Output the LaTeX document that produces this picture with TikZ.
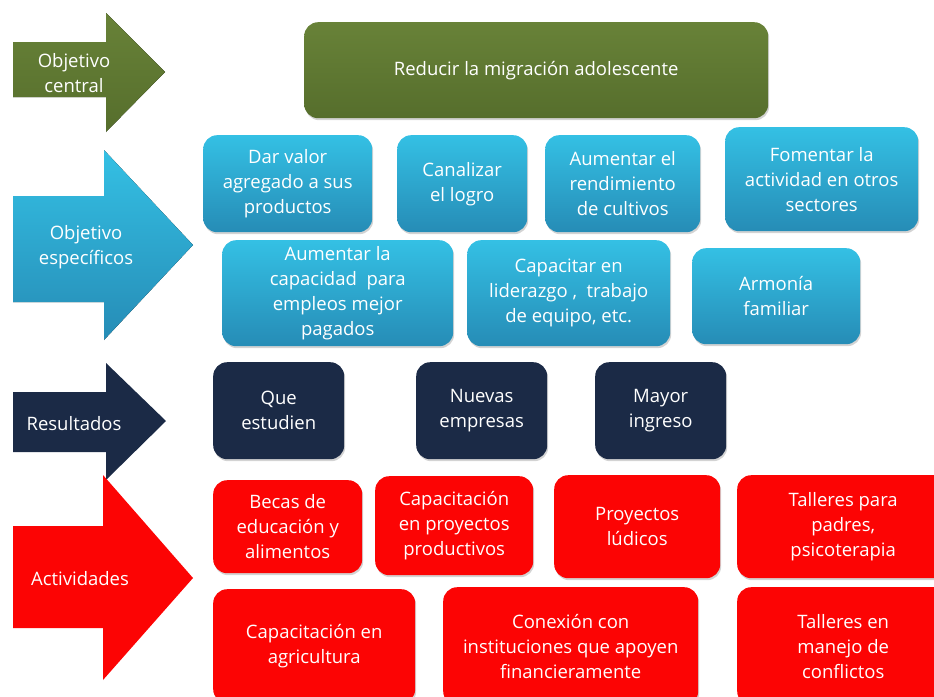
\documentclass[tikz,border=0pt]{standalone}
\usepackage{fontspec}
\setmainfont{Open Sans}
\usetikzlibrary{shadows}

\definecolor{olivetop}{RGB}{104,130,56}
\definecolor{olivebot}{RGB}{86,110,44}
\definecolor{bluetop}{RGB}{52,192,228}
\definecolor{bluebot}{RGB}{38,140,182}
\definecolor{navybox}{RGB}{27,42,70}
\definecolor{redbox}{RGB}{252,4,4}

\tikzset{
  box/.style={rounded corners=14pt, anchor=north west, inner sep=0pt,
    align=center, text=white, font=\fontsize{18.5}{25}\selectfont,
    drop shadow={opacity=0.35, shadow xshift=1pt, shadow yshift=-2pt}},
  centralbox/.style={box, top color=olivetop, bottom color=olivebot},
  espbox/.style={box, top color=bluetop, bottom color=bluebot},
  resbox/.style={box, fill=navybox},
  actbox/.style={box, fill=redbox},
  label/.style={align=center, text=white, font=\fontsize{18.5}{25}\selectfont}
}

\begin{document}
\begin{tikzpicture}[x=1pt,y=-1pt]
        \useasboundingbox (0,0) rectangle (934,696);
        \clip (0,0) rectangle (934,696);

        % draw the arrows on the left
        \fill[top color=olivetop, bottom color=olivebot]
            (13,42) -- (106,42) -- (106,13) -- (165,72) -- (106,132) -- (106,97) -- (13,97) -- cycle;
        \fill[top color=bluetop, bottom color=bluebot]
            (13,196) -- (104,196) -- (104,150) -- (193,245) -- (104,340) -- (104,302) -- (13,302) -- cycle;
        \fill[navybox]
            (13,392) -- (106,392) -- (106,363) -- (166,421) -- (106,480) -- (106,452) -- (13,452) -- cycle;
        \fill[redbox]
            (13,526) -- (103,526) -- (103,475) -- (193,578) -- (103,680) -- (103,628) -- (13,628) -- cycle;

        % the texts on the arrows
        \node[label] (objcentral) at (74,73) {Objetivo\\central};
        \node[label] (objesp) at (86,247) {Objetivo\\específicos};
        \node[label] (resultados) at (74,424) {Resultados};
        \node[label] (actividades) at (80,579) {Actividades};

        % draw the central objective
        \node[centralbox, minimum width=464pt, minimum height=96pt] (central) at (304,22)
            {Reducir la migración adolescente};

        % draw the specific objectives
        \foreach \x/\y/\w/\h/\txt [count=\i] in {
            203/135/169/97/{Dar valor\\agregado a sus\\productos},
            397/135/130/97/{Canalizar\\el logro},
            545/135/155/97/{Aumentar el\\rendimiento\\de cultivos},
            725/127/193/104/{Fomentar la\\actividad en otros\\sectores},
            222/240/231/106/{Aumentar la\\capacidad~~para\\empleos mejor\\pagados},
            467/240/203/106/{Capacitar en\\liderazgo ,~~trabajo\\de equipo, etc.},
            692/248/168/96/{Armonía\\familiar}}
                \node[espbox, minimum width=\w pt, minimum height=\h pt] (esp\i) at (\x,\y) {\txt};

        % draw the results
        \foreach \x/\txt [count=\i] in {
            213/{Que\\estudien},
            416/{Nuevas\\empresas},
            595/{Mayor\\ingreso}}
                \node[resbox, minimum width=131pt, minimum height=97pt] (res\i) at (\x,362) {\txt};

        % draw the activities
        \foreach \x/\y/\w/\h/\txt [count=\i] in {
            213/480/149/93/{Becas de\\educación y\\alimentos},
            375/476/158/99/{Capacitación\\en proyectos\\productivos},
            554/475/166/103/{Proyectos\\lúdicos},
            737/475/212/103/{Talleres para\\padres,\\psicoterapia},
            213/589/202/114/{Capacitación en\\agricultura},
            443/587/255/118/{Conexión con\\instituciones que apoyen\\financieramente},
            737/587/212/118/{Talleres en\\manejo de\\conflictos}}
                \node[actbox, minimum width=\w pt, minimum height=\h pt] (act\i) at (\x,\y) {\txt};
\end{tikzpicture}
\end{document}
